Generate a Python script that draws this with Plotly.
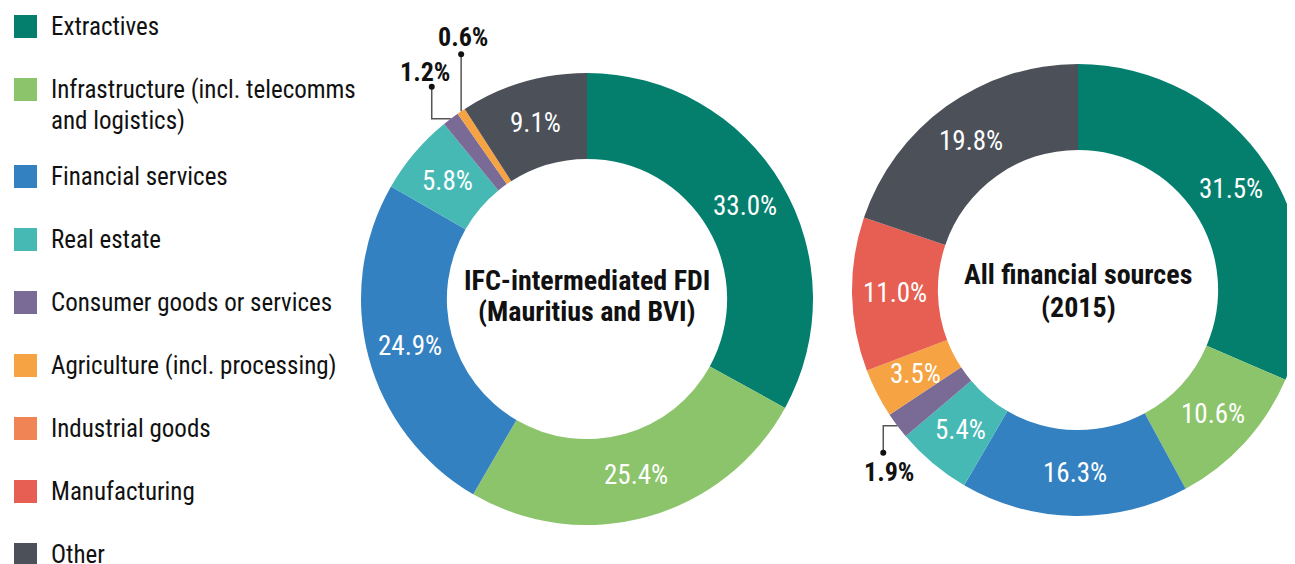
import math
import plotly.graph_objects as go

# ---------------- data ----------------
categories = [
    "Extractives",
    "Infrastructure (incl. telecomms\nand logistics)",
    "Financial services",
    "Real estate",
    "Consumer goods or services",
    "Agriculture (incl. processing)",
    "Industrial goods",
    "Manufacturing",
    "Other",
]
colors = ["#047F6E", "#8CC46B", "#3481C1", "#47B9B5", "#796B96",
          "#F6A343", "#F08455", "#E65F52", "#4C5059"]

ifc_labels = ["Extractives", "Infrastructure", "Financial services", "Real estate",
              "Consumer goods or services", "Agriculture", "Other"]
ifc_values = [33.0, 25.4, 24.9, 5.8, 1.2, 0.6, 9.1]

all_labels = ["Extractives", "Infrastructure", "Financial services", "Real estate",
              "Consumer goods or services", "Agriculture", "Manufacturing", "Other"]
all_values = [31.5, 10.6, 16.3, 5.4, 1.9, 3.5, 11.0, 19.8]

ifc_title = ["IFC-intermediated FDI", "(Mauritius and BVI)"]
all_title = ["All financial sources", "(2015)"]

# ---------------- layout helpers ----------------
W, H = 1300, 556
OFF = 8  # page offset of the figure (body margin)
FONT = "Roboto Condensed, Liberation Sans Narrow, Roboto, sans-serif"
TXT = "#111111"

short = ["Extractives", "Infrastructure", "Financial services", "Real estate",
         "Consumer goods or services", "Agriculture", "Industrial goods",
         "Manufacturing", "Other"]
color_of = dict(zip(short, colors))


def px(x):
    return (x - OFF) / W


def py(y):
    return 1 - (y - OFF) / H


# donut geometry in page pixels (centre x, centre y, outer radius)
donuts = [(587, 299, 226), (1078, 290, 226)]
HOLE = 0.62
SMALL = 2.0  # slices below this share get an outside label

fig = go.Figure()
annotations = []
shapes = []

for (cx, cy, r), labs, vals in zip(donuts, [ifc_labels, all_labels], [ifc_values, all_values]):
    fig.add_trace(go.Pie(
        labels=labs, values=vals, sort=False, direction="clockwise", rotation=0,
        hole=HOLE,
        marker=dict(colors=[color_of[l] for l in labs], line=dict(width=0)),
        textinfo="none",
        domain=dict(x=[px(cx - r), px(cx + r)], y=[py(cy + r), py(cy - r)]),
        showlegend=False, hoverinfo="label+value",
    ))
    # inside labels at mid-ring, mid-angle of each slice
    total = sum(vals)
    cum = 0.0
    rm = r * (1 + HOLE) / 2
    for v in vals:
        mid = (cum + v / 2) / total
        cum += v
        if v < SMALL:
            continue
        ang = 2 * math.pi * mid
        annotations.append(dict(
            x=px(cx + rm * math.sin(ang)), y=py(cy - rm * math.cos(ang)),
            xref="paper", yref="paper", text=f"{v:.1f}%", showarrow=False,
            xanchor="center", yanchor="middle",
            font=dict(family=FONT, size=27, color="white")))

# centre titles
for (cx, cy, r), lines, offs in zip(donuts, [ifc_title, all_title], [(-19, 12.5), (-16, 17)]):
    for line, dy in zip(lines, offs):
        annotations.append(dict(
            x=px(cx), y=py(cy + dy), xref="paper", yref="paper", text=line,
            showarrow=False, xanchor="center", yanchor="middle",
            font=dict(family=FONT, size=28, color=TXT, weight="bold")))

# leader-line labels for the small slices
# (elbow offset from anchor, dot offset from elbow, label offset from dot) in pixels
leader_style = {
    (0, 4): ((-19, 0), (0, -32), (-7, -15)),
    (0, 5): ((0, 0), (0, -57), (2, -17)),
    (1, 4): ((-14, 0), (0, 27), (6, 19)),
}
for di, ((cx, cy, r), vals) in enumerate(zip(donuts, [ifc_values, all_values])):
    total = sum(vals)
    cum = 0.0
    for si, v in enumerate(vals):
        mid = (cum + v / 2) / total
        cum += v
        if v >= SMALL:
            continue
        ang = 2 * math.pi * mid
        ax = cx + r * math.sin(ang)
        ay = cy - r * math.cos(ang)
        (ex, ey), (ddx, ddy), (lx, ly) = leader_style[(di, si)]
        elx, ely = ax + ex, ay + ey
        dx_, dy_ = elx + ddx, ely + ddy
        path = f"M{px(ax)},{py(ay)} L{px(elx)},{py(ely)} L{px(dx_)},{py(dy_)}"
        shapes.append(dict(type="path", path=path, xref="paper", yref="paper",
                           line=dict(color="#555555", width=1.5)))
        rr = 3
        shapes.append(dict(type="circle", xref="paper", yref="paper",
                           x0=px(dx_ - rr), x1=px(dx_ + rr), y0=py(dy_ + rr), y1=py(dy_ - rr),
                           fillcolor="#111111", line=dict(width=0)))
        annotations.append(dict(
            x=px(dx_ + lx), y=py(dy_ + ly), xref="paper", yref="paper",
            text=f"{v:.1f}%", showarrow=False, xanchor="center", yanchor="middle",
            font=dict(family=FONT, size=26, color=TXT, weight="bold")))

# hand-drawn legend
y = 26.5
for cat, col in zip(categories, colors):
    shapes.append(dict(type="rect", xref="paper", yref="paper",
                       x0=px(14), x1=px(37), y0=py(y + 11.5), y1=py(y - 11.5),
                       fillcolor=col, line=dict(width=0)))
    lines = cat.split("\n")
    for k, line in enumerate(lines):
        annotations.append(dict(
            x=px(49), y=py(y + 31 * k), xref="paper", yref="paper", text=line,
            showarrow=False, xanchor="left", yanchor="middle",
            font=dict(family=FONT, size=25, color=TXT)))
    y += 63 + 24 * (len(lines) - 1)

fig.update_layout(
    width=W, height=H, margin=dict(l=0, r=0, t=0, b=0),
    paper_bgcolor="white", plot_bgcolor="white",
    annotations=annotations, shapes=shapes,
)

fig.write_html("out.html")
